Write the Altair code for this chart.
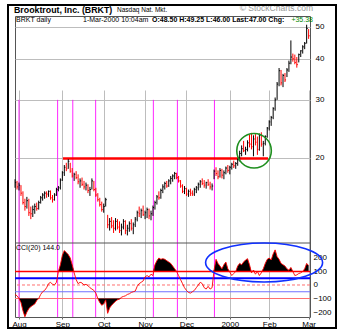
import altair as alt
import pandas as pd

# ---------------- data ----------------
start_idx = -2  # trading-day index, 0 = 2-Aug-1999
high = [17.2, 17.0, 16.8, 16.5, 15.8, 15.0, 15.2, 15.0, 14.2, 14.3,
        14.5, 14.6, 14.8, 15.3, 15.6, 15.8, 15.8, 15.9, 15.9, 15.4,
        15.6, 16.2, 16.4, 17.3, 18.2, 19.0, 19.3, 19.8, 19.3, 18.6,
        18.0, 18.2, 17.8, 17.3, 17.4, 17.0, 16.8, 16.6, 16.3, 17.3,
        17.0, 16.2, 15.6, 15.1, 14.7, 14.5, 15.1, 13.4, 13.1, 13.2,
        12.9, 13.1, 13.0, 12.8, 12.6, 13.0, 12.9, 12.5, 12.8, 13.0,
        12.7, 13.2, 13.8, 14.2, 14.0, 14.3, 13.8, 14.1, 14.0, 13.8,
        14.3, 14.8, 15.4, 15.8, 16.1, 16.6, 16.9, 17.0, 17.2, 17.6,
        17.8, 18.1, 18.0, 17.6, 17.1, 16.6, 16.4, 16.2, 16.0, 16.1,
        15.9, 16.2, 16.4, 16.8, 17.1, 17.3, 17.1, 16.9, 17.2, 16.9,
        16.7, 18.4, 18.7, 18.3, 18.6, 18.5, 18.3, 18.8, 19.0, 18.9,
        19.3, 19.6, 19.4, 19.9, 21.0, 21.8, 22.5, 21.6, 22.6, 23.5,
        23.8, 23.4, 23.6, 23.2, 23.7, 23.9, 22.5, 23.4, 24.8, 26.0,
        26.8, 28.5, 30.5, 34.0, 37.5, 37.0, 36.0, 36.2, 37.5, 39.5,
        45.5, 41.5, 41.2, 40.5, 41.5, 42.5, 44.0, 45.0, 50.8, 49.25]
low = [16.2, 16.0, 15.9, 15.3, 14.4, 13.8, 14.0, 13.3, 13.0, 13.2,
       13.5, 13.8, 13.9, 14.5, 14.8, 15.0, 15.1, 15.2, 14.9, 14.6,
       14.8, 15.3, 15.8, 16.0, 17.0, 17.6, 18.2, 18.5, 18.0, 17.4,
       17.0, 17.2, 16.6, 16.2, 16.4, 16.0, 15.9, 15.6, 15.3, 16.0,
       15.8, 15.2, 14.7, 14.2, 13.7, 13.6, 14.2, 12.2, 12.0, 12.2,
       11.8, 12.0, 12.1, 11.8, 11.6, 12.1, 11.7, 11.6, 11.9, 12.0,
       11.7, 12.3, 12.8, 13.2, 13.1, 13.3, 13.0, 13.1, 13.0, 12.9,
       13.3, 13.9, 14.4, 14.9, 15.0, 15.6, 16.0, 16.2, 16.3, 16.6,
       16.9, 17.2, 17.2, 16.8, 16.2, 15.6, 15.5, 15.3, 15.2, 15.3,
       15.3, 15.3, 15.6, 15.9, 16.2, 16.5, 16.2, 16.1, 16.4, 16.0,
       15.9, 17.2, 17.6, 17.2, 17.4, 17.3, 17.2, 17.8, 18.0, 17.8,
       18.4, 18.6, 18.5, 18.9, 19.5, 20.2, 20.8, 20.4, 20.9, 21.5,
       21.2, 20.2, 21.8, 20.4, 21.0, 21.6, 20.2, 21.8, 23.0, 24.2,
       25.0, 26.2, 27.8, 30.0, 33.0, 33.2, 32.8, 34.0, 35.2, 36.5,
       38.5, 39.2, 38.5, 37.6, 39.0, 40.5, 41.5, 42.8, 44.5, 46.0]
close = [16.8, 16.3, 16.5, 15.6, 14.6, 14.2, 14.8, 13.6, 13.5, 13.9,
         14.2, 14.0, 14.6, 15.1, 15.4, 15.6, 15.5, 15.8, 15.1, 14.9,
         15.4, 16.0, 16.2, 17.1, 18.0, 18.7, 18.5, 19.5, 18.2, 17.6,
         17.8, 17.4, 16.9, 17.0, 16.6, 16.3, 16.5, 15.9, 16.0, 17.0,
         16.0, 15.4, 14.9, 14.4, 13.9, 14.2, 14.9, 12.5, 12.8, 12.4,
         12.2, 12.8, 12.3, 12.0, 12.3, 12.8, 12.0, 12.2, 12.6, 12.2,
         12.5, 13.0, 13.6, 13.5, 13.8, 13.4, 13.6, 13.9, 13.3, 13.5,
         14.1, 14.6, 15.2, 15.1, 15.9, 16.3, 16.7, 16.4, 17.0, 17.3,
         17.6, 17.9, 17.4, 17.0, 16.4, 15.8, 16.1, 15.5, 15.8, 15.6,
         15.5, 16.0, 16.2, 16.6, 16.9, 16.7, 16.5, 16.8, 16.6, 16.3,
         16.4, 18.2, 17.9, 17.5, 18.3, 17.7, 18.0, 18.6, 18.3, 18.7,
         19.1, 18.9, 19.2, 19.7, 20.6, 21.3, 21.0, 21.2, 22.2, 22.0,
         21.6, 22.8, 22.3, 21.2, 23.4, 22.0, 22.1, 23.2, 24.6, 25.7,
         26.5, 28.2, 30.0, 33.5, 36.8, 33.8, 35.6, 34.5, 37.0, 38.8,
         40.5, 40.0, 39.0, 38.4, 41.2, 42.3, 43.5, 44.6, 49.5, 47.0]
cci = [-70, -80, -100, -130, -190, -235, -200, -175, -160, -150,
       -140, -115, -100, -70, -50, -40, -20, 10, 20, 5,
       0, 20, 100, 150, 220, 255, 240, 225, 200, 150,
       90, 40, 10, 20, 15, 0, 5, -5, -20, -30,
       -40, -60, -100, -130, -150, -140, -110, -210, -170, -150,
       -135, -120, -110, -105, -90, -85, -80, -70, -65, -55,
       -50, -45, -10, 10, 20, 30, 60, 70, 60, 80,
       70, 150, 180, 200, 190, 195, 190, 180, 170, 160,
       140, 120, 100, 70, 40, 10, -20, -40, -55, -60,
       -50, -40, -20, 0, 20, 10, -20, -30, -10, -30,
       -20, 110, 190, 160, 140, 120, 150, 170, 120, 95,
       70, 85, 100, 140, 160, 150, 170, 185, 195, 150,
       90, 110, 80, 100, 70, 90, 120, 160, 190, 200,
       185, 230, 260, 210, 190, 160, 150, 140, 120, 110,
       130, 100, 70, 75, 85, 90, 100, 120, 160, 144]

month_idx = [0, 22, 43, 64, 85, 107, 127, 147]
month_lbl = ["Aug", "Sep", "Oct", "Nov", "Dec", "2000", "Feb", "Mar"]
price_ticks = [20, 30, 40, 50]
cci_ticks = [-200, -100, 0, 100, 200]
signal_idx = [0, 19.6, 27.3, 38.9, 68.2, 80.4, 99.2]
signal_top_price = 30
resist_from, resist_to, resist_price = 22.3, 126.4, 19.9
circle_idx, circle_price = 119.3, 21.0
ellipse_idx, ellipse_cci = 124.4, 167

title_txt = "Brooktrout, Inc. (BRKT)"
exch_txt = "Nasdaq Nat. Mkt."
copy_txt = "\u00a9 StockCharts.com"
series_txt = "BRKT daily"
date_txt = "1-Mar-2000 10:04am"
quote_txt = "O:48.50 H:49.25 L:46.00 Last:47.00 Chg:"
chg_txt = "+35.38"
cci_txt = "CCI(20) 144.0"

# ---------------- layout ----------------
W, H = 295, 301
PRICE_H = 227
X_DOM = [-2.03, 147.7]
PRICE_DOM = [11.0, 54.0]
CCI_DOM = [-237, 311]
FONT = "Liberation Sans"

idx = list(range(start_idx, start_idx + len(close)))
direction = ["up"] + ["up" if close[i] >= close[i - 1] else "down" for i in range(1, len(close))]
bars = pd.DataFrame({"idx": idx, "high": high, "low": low, "close": close,
                     "dir": direction, "idx2": [i + 0.55 for i in idx]})
osc = pd.DataFrame({"idx": idx, "cci": cci})
sig = pd.DataFrame({"idx": signal_idx, "ptop": signal_top_price, "pbot": PRICE_DOM[0],
                    "ctop": CCI_DOM[1], "cbot": CCI_DOM[0]})
res = pd.DataFrame({"idx": [resist_from], "b": [resist_to], "p": [resist_price]})
circ = pd.DataFrame({"idx": [circle_idx], "p": [circle_price]})
ell = pd.DataFrame({"idx": [ellipse_idx], "c": [ellipse_cci]})
one = pd.DataFrame({"k": [0]})

x_scale = alt.Scale(domain=X_DOM, nice=False, zero=False)
p_scale = alt.Scale(type="log", domain=PRICE_DOM, range=[PRICE_H, 0], nice=False)
c_scale = alt.Scale(domain=CCI_DOM, range=[H, PRICE_H], nice=False, zero=False)


def label_expr(vals, lbls):
    expr = "''"
    for v, l in reversed(list(zip(vals, lbls))):
        expr = f"(datum.value == {v} ? '{l}' : {expr})"
    return expr


x_axis = alt.Axis(values=month_idx, labelExpr=label_expr(month_idx, month_lbl), grid=True,
                  gridColor="#bdbdbd", domain=False, ticks=True, tickSize=2, tickColor="#666",
                  labelFontSize=8, labelFont=FONT, labelColor="#000", labelPadding=1,
                  labelFlush=False, title=None)
p_axis = alt.Axis(orient="right", values=price_ticks, grid=True, gridColor="#bdbdbd",
                  domain=False, ticks=False, labelPadding=5, labelFontSize=8, labelFont=FONT,
                  labelColor="#000", title=None)
c_axis = alt.Axis(orient="right", values=cci_ticks, grid=False, domain=False, ticks=False,
                  labelPadding=3, labelFontSize=8, labelFont=FONT, labelColor="#000", title=None)


def X(f):
    return alt.X(f, type="quantitative", scale=x_scale, axis=x_axis)


def PY(f):
    return alt.Y(f, type="quantitative", scale=p_scale, axis=p_axis)


def CY(f):
    return alt.Y(f, type="quantitative", scale=c_scale, axis=c_axis)


updown = alt.Color("dir:N", scale=alt.Scale(domain=["up", "down"], range=["#000000", "#ff0000"]),
                   legend=None)

# ---------------- price panel ----------------
p_sig = alt.Chart(sig).mark_rule(color="#ff00ff", strokeWidth=1, opacity=0.85).encode(
    x=X("idx"), y=PY("ptop"), y2="pbot")
p_res = alt.Chart(res).mark_rule(color="#ff0000", strokeWidth=2.5).encode(
    x=X("idx"), x2="b", y=PY("p"))
p_bars = alt.Chart(bars).mark_rule(strokeWidth=1).encode(
    x=X("idx"), y=PY("high"), y2="low", color=updown)
p_ticks = alt.Chart(bars).mark_rule(strokeWidth=1).encode(
    x=X("idx"), x2="idx2", y=PY("close"), color=updown)
p_circle = alt.Chart(circ).mark_point(shape="circle", size=1195, filled=False,
                                      color="#1f8f1f", strokeWidth=1.6, opacity=1).encode(
    x=X("idx"), y=PY("p"))
price = alt.layer(p_sig, p_res, p_bars, p_ticks, p_circle)

# ---------------- CCI panel ----------------
c_sig = alt.Chart(sig).mark_rule(color="#ff00ff", strokeWidth=1, opacity=0.85).encode(
    x=X("idx"), y=CY("ctop"), y2="cbot")


def level(v, **kw):
    return alt.Chart(one).transform_calculate(v=str(v)).mark_rule(**kw).encode(y=CY("v"))


c_sep = level(CCI_DOM[1], color="#555", strokeWidth=1)
c_l100 = level(100, color="#ff0000", strokeWidth=1.5)
c_l50 = level(50, color="#0000ff", strokeWidth=2)
c_l0 = level(0, color="#ff7070", strokeWidth=1, strokeDash=[3, 2])
c_lm50 = level(-50, color="#7070ff", strokeWidth=1.2)
c_lm100 = level(-100, color="#ff7070", strokeWidth=1.2)
c_up = alt.Chart(osc).transform_calculate(u="max(datum.cci, 100)", b="100").mark_area(
    color="#000000", opacity=1).encode(x=X("idx"), y=CY("u"), y2="b")
c_dn = alt.Chart(osc).transform_calculate(u="min(datum.cci, -100)", b="-100").mark_area(
    color="#000000", opacity=1).encode(x=X("idx"), y=CY("u"), y2="b")
c_line = alt.Chart(osc).mark_line(color="#ff0000", strokeWidth=0.9).encode(
    x=X("idx"), y=CY("cci"))
c_ell = alt.Chart(ell).mark_point(shape="M -3 0 A 3 1 0 1 1 3 0 A 3 1 0 1 1 -3 0 Z",
                                  size=1521, filled=False, color="#1030ff",
                                  strokeWidth=1.6, opacity=1).encode(
    x=X("idx"), y=CY("c"))
cci_panel = alt.layer(c_sig, c_l0, c_lm50, c_lm100, c_up, c_dn, c_l100, c_l50, c_line, c_sep, c_ell)

# ---------------- texts and frame ----------------


def txt(t, x, y, size=7, weight="normal", color="#000", align="left", baseline="alphabetic"):
    return alt.Chart(one).mark_text(text=t, fontSize=size, fontWeight=weight, color=color,
                                    align=align, baseline=baseline, font=FONT).encode(
        x=alt.value(x), y=alt.value(y))


texts = [
    txt(title_txt, -1, -3, size=8.8, weight="bold"),
    txt(exch_txt, 102, -4, size=6.5),
    txt(copy_txt, 298, -5, size=8.5, color="#999999", align="right"),
    txt(series_txt, 1, 6, size=7),
    txt(date_txt, 68, 6, size=7),
    txt(quote_txt, 137, 6, size=7, weight="bold"),
    txt(chg_txt, 298, 6, size=7, color="#008800", align="right"),
    txt(cci_txt, 1, 234, size=7),
]
frame = alt.Chart(one).mark_rect(fillOpacity=0, stroke="#000", strokeWidth=2).encode(
    x=alt.value(-7), x2=alt.value(321), y=alt.value(-11), y2=alt.value(312))

chart = alt.layer(price, cci_panel, *texts, frame).resolve_scale(y="independent").properties(
    width=W, height=H,
    autosize=alt.AutoSizeParams(type="none"),
    padding={"left": 15, "top": 16, "right": 31, "bottom": 15},
    background="white",
).configure_view(stroke="#555", strokeWidth=1)

chart.save("out.html", embed_options={"renderer": "svg", "actions": False})
